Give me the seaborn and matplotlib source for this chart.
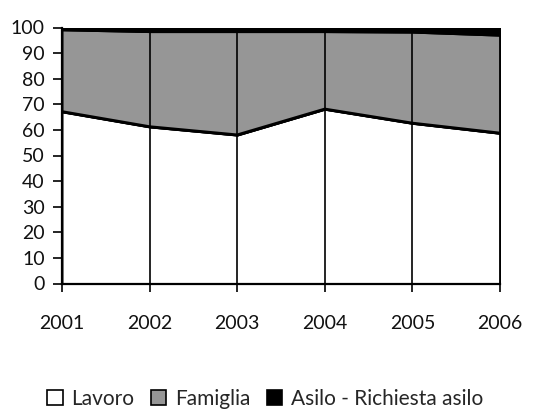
import matplotlib
matplotlib.use("Agg")
import matplotlib.pyplot as plt
import seaborn as sns
import numpy as np
import pandas as pd
from matplotlib.patches import Patch

years = [2001, 2002, 2003, 2004, 2005, 2006]
lavoro = [67.1, 61.2, 58.0, 68.1, 62.6, 58.7]
famiglia = [32.0, 37.2, 40.4, 30.3, 35.6, 38.3]
asilo = [0.9, 1.6, 1.6, 1.6, 1.8, 3.0]
series_names = ["Lavoro", "Famiglia", "Asilo - Richiesta asilo"]
colors = ["#ffffff", "#969696", "#000000"]
yticks = list(range(0, 101, 10))

sns.set_theme(style="white")
plt.rcParams['font.family'] = ['Lato', 'DejaVu Sans']

df = pd.DataFrame({"Anno": years, series_names[0]: lavoro,
                   series_names[1]: famiglia, series_names[2]: asilo})

fig = plt.figure(figsize=(5.46, 4.09), dpi=100)
ax = fig.add_axes([62/546, 1 - 283.5/409, (500-62)/546, (283.5-27.5)/409])

ax.stackplot(df["Anno"], df[series_names[0]], df[series_names[1]], df[series_names[2]],
             colors=colors, edgecolor="black", linewidth=1.4)
cum1 = df[series_names[0]]
cum2 = cum1 + df[series_names[1]]
sns.lineplot(x=df["Anno"], y=cum1, color="black", linewidth=2.2, ax=ax)
sns.lineplot(x=df["Anno"], y=cum2, color="black", linewidth=1.0, ax=ax)
ax.axhline(100, color="black", linewidth=2.0, zorder=4)

for yr in years:
    ax.axvline(yr, color="black", linewidth=1.2, zorder=3)

ax.set_xlim(2001, 2006)
ax.set_ylim(0, 100)
ax.set_xticks(years)
ax.set_xticklabels([str(y) for y in years])
ax.set_yticks(yticks)
ax.set_xlabel("")
ax.set_ylabel("")
sns.despine(ax=ax, top=True, right=True)
for s in ["left", "bottom"]:
    ax.spines[s].set_color("black")
    ax.spines[s].set_linewidth(1.6)
ax.tick_params(axis="y", direction="out", length=6.5, width=1.2, color="black",
               labelsize=14, pad=6, left=True, labelcolor="#111111")
ax.tick_params(axis="x", direction="out", length=6, width=1.2, color="black",
               labelsize=14, pad=17, bottom=True, labelcolor="#111111")

handles = [Patch(facecolor=c, edgecolor="black", linewidth=1.2) for c in colors]
fig.legend(handles, series_names, loc="center", bbox_to_anchor=(265/546, 1 - 399/409),
           ncol=3, frameon=False, fontsize=15, handlelength=0.75, handleheight=0.75,
           handletextpad=0.4, columnspacing=0.8)

fig.savefig("out.png", dpi=100)
